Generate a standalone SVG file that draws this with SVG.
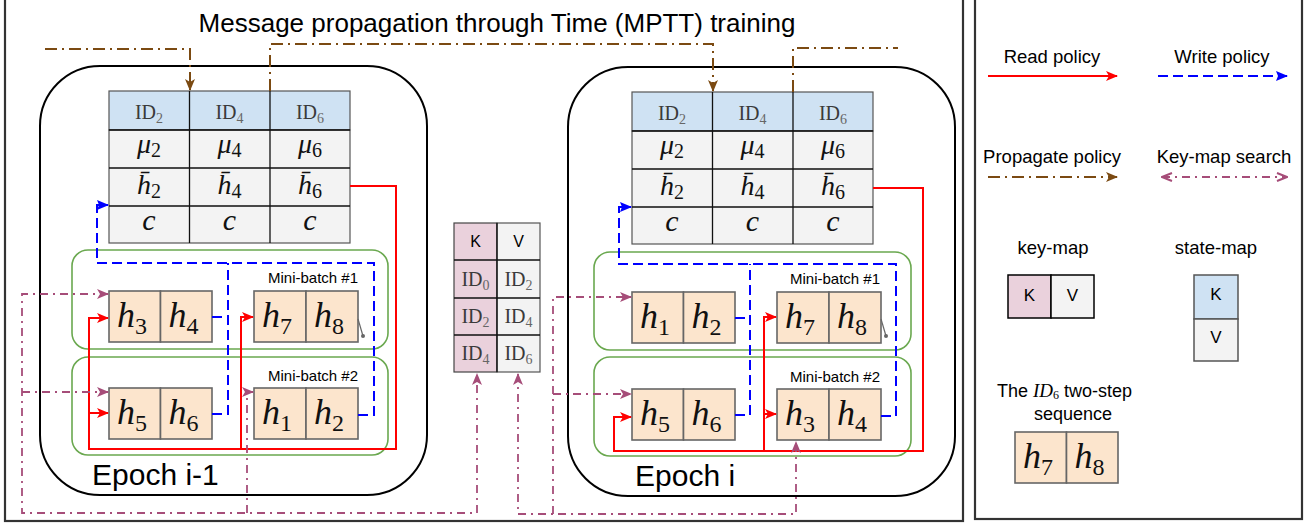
<svg xmlns="http://www.w3.org/2000/svg" width="1307" height="525" viewBox="0 0 1307 525">
<style>
.sans{font-family:"Liberation Sans",Arial,sans-serif;fill:#000}
.rm{font-family:"Liberation Serif","DejaVu Serif",serif;fill:#3a3a3a;font-size:20px;text-anchor:middle}
.mi{font-family:"Liberation Serif","DejaVu Serif",serif;font-style:italic;fill:#111;text-anchor:middle}
.up{font-style:normal}
.pe{fill:#fce5cd;stroke:#666;stroke-width:1.6}
.hb{fill:#cfe2f3;stroke:#555;stroke-width:1.2}
.gb{fill:#f3f3f3;stroke:#555;stroke-width:1.2}
.pk{fill:#ead1dc;stroke:#444;stroke-width:1.2}
.ln{stroke:#111;stroke-width:1.3}
.mb{fill:none;stroke:#6aa84f;stroke-width:1.6}
.ep{fill:none;stroke:#000;stroke-width:2}
.red{fill:none;stroke:#ff0000;stroke-width:2}
.blue{fill:none;stroke:#0000ff;stroke-width:2;stroke-dasharray:10 5}
.brown{fill:none;stroke:#7b4a12;stroke-width:2;stroke-dasharray:12 5 2 5}
.pink{fill:none;stroke:#a64d79;stroke-width:1.8;stroke-dasharray:8 5 2 5}
.panel{fill:none;stroke:#333;stroke-width:2.2}
</style>
<defs>
<marker id="aR" markerUnits="userSpaceOnUse" markerWidth="12" markerHeight="10" refX="11" refY="5" orient="auto-start-reverse"><path d="M0,0 L12,5 L0,10 L3,5 Z" fill="#ff0000"/></marker>
<marker id="aB" markerUnits="userSpaceOnUse" markerWidth="12" markerHeight="10" refX="11" refY="5" orient="auto-start-reverse"><path d="M0,0 L12,5 L0,10 L2,5 Z" fill="#0000ff"/></marker>
<marker id="aBr" markerUnits="userSpaceOnUse" markerWidth="12" markerHeight="10" refX="11" refY="5" orient="auto-start-reverse"><path d="M0,0 L12,5 L0,10 L3,5 Z" fill="#7b4a12"/></marker>
<marker id="aP" markerUnits="userSpaceOnUse" markerWidth="12" markerHeight="10" refX="11" refY="5" orient="auto-start-reverse"><path d="M0,0 L12,5 L0,10 L3,5 Z" fill="#a64d79"/></marker>
<marker id="aPo" markerUnits="userSpaceOnUse" markerWidth="12" markerHeight="10" refX="11" refY="5" orient="auto-start-reverse"><path d="M1,1 L11,5 L1,9" fill="none" stroke="#a64d79" stroke-width="2"/></marker>
</defs>

<rect class="panel" x="5" y="-3" width="958" height="524"/>
<rect class="panel" x="975" y="-3" width="327" height="522"/>

<text class="sans" x="497" y="32" font-size="26" text-anchor="middle">Message propagation through Time (MPTT) training</text>

<g id="epoch-left">
<rect class="ep" x="40" y="66" width="387" height="429" rx="60"/>
<text class="sans" x="92" y="485" font-size="30">Epoch i-1</text>
</g>
<g id="epoch-right">
<rect class="ep" x="568" y="67" width="387" height="429" rx="60"/>
<text class="sans" x="635" y="486" font-size="30">Epoch i</text>
</g>

<g id="statemap-left" transform="translate(109,91)">
<rect class="hb" x="0" y="0" width="241" height="39"/>
<rect class="gb" x="0" y="39" width="241" height="113"/>
<path class="ln" d="M0,39H241M0,77H241M0,115H241M80.5,0V152M161,0V152"/>
<text class="rm" x="40" y="28">ID<tspan font-size="14" dy="4" fill="#666">2</tspan></text>
<text class="rm" x="120.5" y="28">ID<tspan font-size="14" dy="4" fill="#666">4</tspan></text>
<text class="rm" x="201" y="28">ID<tspan font-size="14" dy="4" fill="#666">6</tspan></text>
<text class="mi" x="40" y="62" font-size="28">μ<tspan class="up" font-size="20" dy="4">2</tspan></text>
<text class="mi" x="120.5" y="62" font-size="28">μ<tspan class="up" font-size="20" dy="4">4</tspan></text>
<text class="mi" x="201" y="62" font-size="28">μ<tspan class="up" font-size="20" dy="4">6</tspan></text>
<text class="mi" x="40" y="103" font-size="28">h&#x304;<tspan class="up" font-size="20" dy="4">2</tspan></text>
<text class="mi" x="120.5" y="103" font-size="28">h&#x304;<tspan class="up" font-size="20" dy="4">4</tspan></text>
<text class="mi" x="201" y="103" font-size="28">h&#x304;<tspan class="up" font-size="20" dy="4">6</tspan></text>
<text class="mi" x="40" y="139" font-size="30">c</text>
<text class="mi" x="120.5" y="139" font-size="30">c</text>
<text class="mi" x="201" y="139" font-size="30">c</text>
</g>

<g id="statemap-right" transform="translate(632,92)">
<rect class="hb" x="0" y="0" width="241" height="39"/>
<rect class="gb" x="0" y="39" width="241" height="113"/>
<path class="ln" d="M0,39H241M0,77H241M0,115H241M80.5,0V152M161,0V152"/>
<text class="rm" x="40" y="28">ID<tspan font-size="14" dy="4" fill="#666">2</tspan></text>
<text class="rm" x="120.5" y="28">ID<tspan font-size="14" dy="4" fill="#666">4</tspan></text>
<text class="rm" x="201" y="28">ID<tspan font-size="14" dy="4" fill="#666">6</tspan></text>
<text class="mi" x="40" y="62" font-size="28">μ<tspan class="up" font-size="20" dy="4">2</tspan></text>
<text class="mi" x="120.5" y="62" font-size="28">μ<tspan class="up" font-size="20" dy="4">4</tspan></text>
<text class="mi" x="201" y="62" font-size="28">μ<tspan class="up" font-size="20" dy="4">6</tspan></text>
<text class="mi" x="40" y="103" font-size="28">h&#x304;<tspan class="up" font-size="20" dy="4">2</tspan></text>
<text class="mi" x="120.5" y="103" font-size="28">h&#x304;<tspan class="up" font-size="20" dy="4">4</tspan></text>
<text class="mi" x="201" y="103" font-size="28">h&#x304;<tspan class="up" font-size="20" dy="4">6</tspan></text>
<text class="mi" x="40" y="139" font-size="30">c</text>
<text class="mi" x="120.5" y="139" font-size="30">c</text>
<text class="mi" x="201" y="139" font-size="30">c</text>
</g>

<g id="keymap" transform="translate(454,223)">
<rect class="pk" x="0" y="0" width="43" height="149"/>
<rect class="gb" x="43" y="0" width="43" height="149"/>
<path class="ln" d="M0,37H86M0,75H86M0,112H86M43,0V149"/>
<text class="sans" x="21.5" y="24" font-size="16" text-anchor="middle">K</text>
<text class="sans" x="64.5" y="24" font-size="16" text-anchor="middle">V</text>
<text class="rm" x="21.5" y="63">ID<tspan font-size="14" dy="4" fill="#666">0</tspan></text>
<text class="rm" x="64.5" y="63">ID<tspan font-size="14" dy="4" fill="#666">2</tspan></text>
<text class="rm" x="21.5" y="100">ID<tspan font-size="14" dy="4" fill="#666">2</tspan></text>
<text class="rm" x="64.5" y="100">ID<tspan font-size="14" dy="4" fill="#666">4</tspan></text>
<text class="rm" x="21.5" y="137">ID<tspan font-size="14" dy="4" fill="#666">4</tspan></text>
<text class="rm" x="64.5" y="137">ID<tspan font-size="14" dy="4" fill="#666">6</tspan></text>
</g>

<g id="minibatch1-left">
<rect class="mb" x="72" y="250" width="316" height="99" rx="16"/>
<text class="sans" x="268" y="283" font-size="15">Mini-batch #1</text>
</g>
<g id="minibatch2-left">
<rect class="mb" x="72" y="357" width="316" height="98" rx="16"/>
<text class="sans" x="268" y="381" font-size="15">Mini-batch #2</text>
</g>
<g id="minibatch1-right">
<rect class="mb" x="594" y="252" width="317" height="98" rx="16"/>
<text class="sans" x="790" y="284" font-size="15">Mini-batch #1</text>
</g>
<g id="minibatch2-right">
<rect class="mb" x="594" y="357" width="317" height="99" rx="16"/>
<text class="sans" x="790" y="382" font-size="15">Mini-batch #2</text>
</g>

<g id="seq-h3h4-left" transform="translate(109,291)">
<rect class="pe" x="0" y="0" width="51.5" height="51"/><rect class="pe" x="51.5" y="0" width="51.5" height="51"/>
<text class="mi" x="23" y="36" font-size="36">h<tspan class="up" font-size="24" dy="7">3</tspan></text>
<text class="mi" x="74.5" y="36" font-size="36">h<tspan class="up" font-size="24" dy="7">4</tspan></text>
</g>
<g id="seq-h7h8-left" transform="translate(254,291)">
<rect class="pe" x="0" y="0" width="52" height="51"/><rect class="pe" x="52" y="0" width="52" height="51"/>
<text class="mi" x="23" y="36" font-size="36">h<tspan class="up" font-size="24" dy="7">7</tspan></text>
<text class="mi" x="75" y="36" font-size="36">h<tspan class="up" font-size="24" dy="7">8</tspan></text>
</g>
<g id="seq-h5h6-left" transform="translate(109,388)">
<rect class="pe" x="0" y="0" width="51.5" height="51"/><rect class="pe" x="51.5" y="0" width="51.5" height="51"/>
<text class="mi" x="23" y="36" font-size="36">h<tspan class="up" font-size="24" dy="7">5</tspan></text>
<text class="mi" x="74.5" y="36" font-size="36">h<tspan class="up" font-size="24" dy="7">6</tspan></text>
</g>
<g id="seq-h1h2-left" transform="translate(254,388)">
<rect class="pe" x="0" y="0" width="52" height="51"/><rect class="pe" x="52" y="0" width="52" height="51"/>
<text class="mi" x="23" y="36" font-size="36">h<tspan class="up" font-size="24" dy="7">1</tspan></text>
<text class="mi" x="75" y="36" font-size="36">h<tspan class="up" font-size="24" dy="7">2</tspan></text>
</g>

<g id="seq-h1h2-right" transform="translate(632,292)">
<rect class="pe" x="0" y="0" width="51.5" height="51"/><rect class="pe" x="51.5" y="0" width="51.5" height="51"/>
<text class="mi" x="23" y="36" font-size="36">h<tspan class="up" font-size="24" dy="7">1</tspan></text>
<text class="mi" x="74.5" y="36" font-size="36">h<tspan class="up" font-size="24" dy="7">2</tspan></text>
</g>
<g id="seq-h7h8-right" transform="translate(777,292)">
<rect class="pe" x="0" y="0" width="52" height="51"/><rect class="pe" x="52" y="0" width="52" height="51"/>
<text class="mi" x="23" y="36" font-size="36">h<tspan class="up" font-size="24" dy="7">7</tspan></text>
<text class="mi" x="75" y="36" font-size="36">h<tspan class="up" font-size="24" dy="7">8</tspan></text>
</g>
<g id="seq-h5h6-right" transform="translate(632,389)">
<rect class="pe" x="0" y="0" width="51.5" height="51"/><rect class="pe" x="51.5" y="0" width="51.5" height="51"/>
<text class="mi" x="23" y="36" font-size="36">h<tspan class="up" font-size="24" dy="7">5</tspan></text>
<text class="mi" x="74.5" y="36" font-size="36">h<tspan class="up" font-size="24" dy="7">6</tspan></text>
</g>
<g id="seq-h3h4-right" transform="translate(777,389)">
<rect class="pe" x="0" y="0" width="52" height="51"/><rect class="pe" x="52" y="0" width="52" height="51"/>
<text class="mi" x="23" y="36" font-size="36">h<tspan class="up" font-size="24" dy="7">3</tspan></text>
<text class="mi" x="75" y="36" font-size="36">h<tspan class="up" font-size="24" dy="7">4</tspan></text>
</g>

<g id="connectors">
<path class="brown" d="M45,49H190V90" marker-end="url(#aBr)"/>
<path class="brown" d="M270,91V44H713V91" marker-end="url(#aBr)"/>
<path class="brown" d="M793,92V48H898"/>

<path class="blue" d="M212,317H228M212,414H228V263M358,415H374V263H97V205H108" marker-end="url(#aB)"/>
<path class="blue" d="M735,318H750M735,415H750V264M881,416H896V264H619V207H631" marker-end="url(#aB)"/>

<path class="red" d="M350,186H396V449H89V318H108" marker-end="url(#aR)"/>
<path class="red" d="M89,413H108" marker-end="url(#aR)"/>
<path class="red" d="M241,449V317H253" marker-end="url(#aR)"/>
<path class="red" d="M873,188H923V451H614V417H631" marker-end="url(#aR)"/>
<path class="red" d="M764,451V317H776" marker-end="url(#aR)"/>
<path class="red" d="M764,414H776" marker-end="url(#aR)"/>

<path class="pink" d="M108,294H22V513H477V374" marker-start="url(#aP)" marker-end="url(#aP)"/>
<path class="pink" d="M22,392H108" marker-end="url(#aP)"/>
<path class="pink" d="M247,513V392H253" marker-end="url(#aP)"/>
<path class="pink" d="M518,374V514H796V442" marker-start="url(#aP)" marker-end="url(#aP)"/>
<path class="pink" d="M553,514V297H631" marker-end="url(#aP)"/>
<path class="pink" d="M553,394H631" marker-end="url(#aP)"/>

<path d="M358,319L363,336" stroke="#666" stroke-width="1.2" fill="none"/>
<circle cx="363" cy="336" r="2" fill="#666"/>
<path d="M881,319L886,336" stroke="#666" stroke-width="1.2" fill="none"/>
<circle cx="886" cy="336" r="2" fill="#666"/>
</g>

<g id="legend">
<text class="sans" x="1052" y="63" font-size="18.5" text-anchor="middle">Read policy</text>
<path class="red" d="M988,76H1117" marker-end="url(#aR)"/>
<text class="sans" x="1222" y="63" font-size="18.5" text-anchor="middle">Write policy</text>
<path class="blue" d="M1158,76H1287" marker-end="url(#aB)"/>
<text class="sans" x="1052" y="163" font-size="18.5" text-anchor="middle">Propagate policy</text>
<path class="brown" d="M988,177H1117" marker-end="url(#aBr)"/>
<text class="sans" x="1224" y="163" font-size="18.5" text-anchor="middle">Key-map search</text>
<path class="pink" d="M1162,177H1287" marker-start="url(#aPo)" marker-end="url(#aPo)"/>
<text class="sans" x="1053" y="254" font-size="18.5" text-anchor="middle">key-map</text>
<text class="sans" x="1216" y="254" font-size="18.5" text-anchor="middle">state-map</text>
</g>
<g id="legend-keymap">
<rect x="1008" y="275" width="43" height="43" fill="#ead1dc" stroke="#000" stroke-width="1.5"/>
<rect x="1051" y="275" width="43" height="43" fill="#f3f3f3" stroke="#000" stroke-width="1.5"/>
<text class="sans" x="1029.5" y="301" font-size="17" text-anchor="middle">K</text>
<text class="sans" x="1072.5" y="301" font-size="17" text-anchor="middle">V</text>
</g>
<g id="legend-statemap">
<rect x="1194" y="275" width="44" height="44" fill="#cfe2f3" stroke="#555" stroke-width="1.5"/>
<rect x="1194" y="319" width="44" height="42" fill="#f3f3f3" stroke="#555" stroke-width="1.5"/>
<text class="sans" x="1216" y="300" font-size="17" text-anchor="middle">K</text>
<text class="sans" x="1216" y="343" font-size="17" text-anchor="middle">V</text>
</g>
<g id="legend-sequence">
<text class="sans" x="997" y="397" font-size="18">The <tspan font-family="Liberation Serif, serif" font-style="italic" font-size="19">ID</tspan><tspan font-family="Liberation Serif, serif" font-size="12" dy="2">6</tspan><tspan dy="-2"> two-step</tspan></text>
<text class="sans" x="1073" y="420" font-size="18" text-anchor="middle">sequence</text>
<g transform="translate(1015,432)">
<rect class="pe" x="0" y="0" width="51.5" height="51"/><rect class="pe" x="51.5" y="0" width="51.5" height="51"/>
<text class="mi" x="23" y="36" font-size="36">h<tspan class="up" font-size="24" dy="7">7</tspan></text>
<text class="mi" x="74.5" y="36" font-size="36">h<tspan class="up" font-size="24" dy="7">8</tspan></text>
</g>
</g>
</svg>
